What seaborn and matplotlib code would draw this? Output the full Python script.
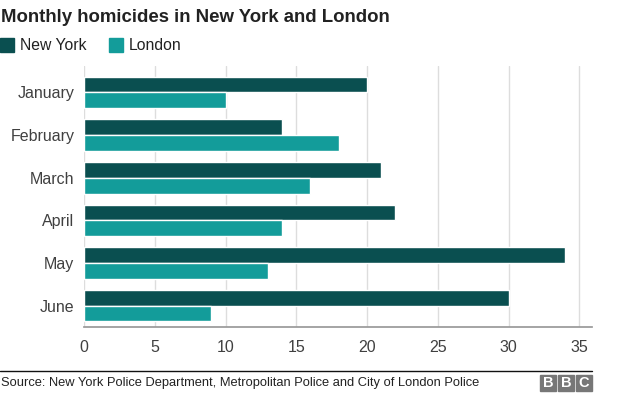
import matplotlib.pyplot as plt
import seaborn as sns
import pandas as pd
from matplotlib.patches import Rectangle
from matplotlib.lines import Line2D

months = ["January", "February", "March", "April", "May", "June"]
new_york = [20, 14, 21, 22, 34, 30]
london = [10, 18, 16, 14, 13, 9]
cities = ["New York", "London"]
colors = ["#0a4f50", "#139c9a"]

df = pd.DataFrame({
    "month": months * 2,
    "city": ["New York"] * len(months) + ["London"] * len(months),
    "homicides": new_york + london,
})

sns.set_theme(style="white")
plt.rcParams["font.family"] = ["Liberation Sans", "DejaVu Sans"]

fig = plt.figure(figsize=(6.24, 3.95), dpi=100)
ax = fig.add_axes([84 / 624, 1 - 327 / 395, (592 - 84) / 624, (327 - 66) / 395])

sns.barplot(data=df, y="month", x="homicides", hue="city", order=months,
            hue_order=cities, palette=colors, orient="h", width=0.74,
            saturation=1, legend=False, ax=ax)

ax.set_xlim(0, 35.9)
ax.set_ylim(5.5, -0.62)
ax.set_xticks(range(0, 36, 5))
ax.set_xlabel("")
ax.set_ylabel("")
ax.grid(axis="x", color="#dddddd", linewidth=1)
ax.set_axisbelow(True)
for s in ["top", "right", "left"]:
    ax.spines[s].set_visible(False)
ax.spines["bottom"].set_color("#999999")
ax.tick_params(axis="both", length=0, labelsize=11.5, colors="#404040")
ax.tick_params(axis="x", pad=9)
ax.tick_params(axis="y", pad=7)

# title and legend
fig.text(0.002, 1 - 17 / 395, "Monthly homicides in New York and London",
         fontsize=13.4, fontweight="bold", color="#222222", va="center")
legend_x = [0, 109]
for x0, city, col in zip(legend_x, cities, colors):
    fig.patches.append(Rectangle((x0 / 624, 1 - 52 / 395), 14 / 624, 14 / 395,
                                 transform=fig.transFigure, color=col))
    fig.text((x0 + 20) / 624, 1 - 45 / 395, city, fontsize=11.3,
             color="#222222", va="center")

# footer
fig.lines.append(Line2D([0, 592 / 624], [1 - 371 / 395] * 2,
                        transform=fig.transFigure, color="#111111", linewidth=1))
fig.text(0.002, 1 - 383 / 395,
         "Source: New York Police Department, Metropolitan Police and City of London Police",
         fontsize=9.3, color="#222222", va="center")
for i, letter in enumerate("BBC"):
    x0 = 540 + i * 18
    fig.patches.append(Rectangle((x0 / 624, 1 - 391 / 395), 16 / 624, 16 / 395,
                                 transform=fig.transFigure, color="#777777"))
    fig.text((x0 + 8) / 624, 1 - 383 / 395, letter, fontsize=10.5,
             fontweight="bold", color="white", ha="center", va="center")

fig.savefig("out.png", dpi=100)
